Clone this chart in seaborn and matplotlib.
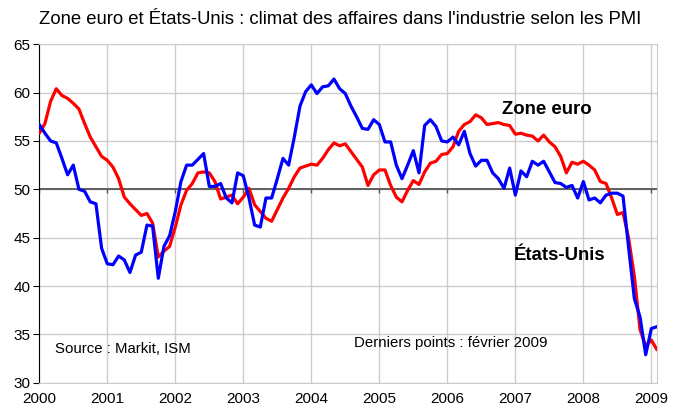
import numpy as np
import pandas as pd
import matplotlib
matplotlib.use("Agg")
import matplotlib.pyplot as plt
import seaborn as sns

# PMI manufacturier mensuel, janv. 2000 -> fevr. 2009
years = ["2000", "2001", "2002", "2003", "2004", "2005", "2006", "2007", "2008", "2009"]

pmi_zone_euro = [
    55.8, 56.8, 59.1, 60.4, 59.7, 59.4, 58.9, 58.3, 56.8, 55.4, 54.4, 53.4,
    53.0, 52.3, 51.1, 49.2, 48.5, 47.9, 47.3, 47.5, 46.5, 43.0, 43.6, 44.1,
    46.1, 48.4, 49.9, 50.6, 51.7, 51.8, 51.7, 50.8, 49.0, 49.2, 49.4, 48.5,
    49.2, 50.1, 48.4, 47.7, 47.0, 46.7, 47.9, 49.1, 50.1, 51.3, 52.2, 52.4,
    52.6, 52.5, 53.2, 54.1, 54.8, 54.5, 54.7, 53.9, 53.1, 52.3, 50.4, 51.5,
    52.0, 52.0, 50.4, 49.2, 48.7, 49.9, 50.9, 50.5, 51.8, 52.7, 52.9, 53.6,
    53.7, 54.4, 56.0, 56.7, 57.0, 57.7, 57.4, 56.7, 56.8, 56.9, 56.7, 56.6,
    55.7, 55.8, 55.6, 55.5, 55.0, 55.6, 54.9, 54.4, 53.4, 51.7, 52.8, 52.6,
    52.9, 52.5, 52.0, 50.8, 50.6, 49.1, 47.4, 47.6, 44.9, 41.0, 35.5, 33.8,
    34.4, 33.4,
]

ism_etats_unis = [
    56.7, 55.8, 55.0, 54.8, 53.2, 51.5, 52.5, 50.0, 49.8, 48.7, 48.5, 43.9,
    42.3, 42.2, 43.1, 42.7, 41.4, 43.2, 43.5, 46.3, 46.2, 40.8, 44.1, 45.2,
    47.7, 50.8, 52.5, 52.5, 53.1, 53.7, 50.3, 50.3, 50.6, 49.1, 48.6, 51.7,
    51.4, 49.1, 46.3, 46.1, 49.1, 49.1, 51.1, 53.2, 52.5, 55.4, 58.6, 60.1,
    60.8, 59.9, 60.6, 60.7, 61.4, 60.4, 59.9, 58.6, 57.5, 56.3, 56.2, 57.2,
    56.7, 54.9, 54.9, 52.5, 51.1, 52.5, 54.0, 51.7, 56.6, 57.2, 56.5, 55.0,
    54.9, 55.4, 54.6, 56.0, 53.7, 52.4, 53.0, 53.0, 51.7, 51.1, 50.1, 52.2,
    49.4, 51.9, 51.3, 52.9, 52.5, 52.9, 51.8, 50.7, 50.6, 50.2, 50.4, 49.1,
    50.8, 48.9, 49.1, 48.6, 49.4, 49.6, 49.6, 49.3, 43.9, 38.7, 36.8, 32.9,
    35.6, 35.8,
]

mois = np.arange(len(pmi_zone_euro))
df = pd.DataFrame({"mois": np.concatenate([mois, mois]),
                   "pmi": pmi_zone_euro + ism_etats_unis,
                   "zone": ["Zone euro"] * len(mois) + ["États-Unis"] * len(mois)})

sns.set_style("white")
plt.rcParams["font.family"] = ["Liberation Sans", "DejaVu Sans"]
plt.rcParams["text.color"] = "black"
plt.rcParams["xtick.labelcolor"] = "black"
plt.rcParams["ytick.labelcolor"] = "black"

fig = plt.figure(figsize=(6.77, 4.08), dpi=100)
ax = fig.add_axes([0.058, 0.062, 0.9125, 0.8295])

sns.lineplot(data=df, x="mois", y="pmi", hue="zone",
             palette={"Zone euro": "#ff0000", "États-Unis": "#0000ff"},
             linewidth=2.3, legend=False, ax=ax, zorder=3)

ax.set_xlim(0, len(mois) - 1)
ax.set_ylim(30, 65)
ax.set_xticks(np.arange(0, len(mois), 12))
ax.set_xticklabels(years)
ax.set_yticks(np.arange(30, 66, 5))
ax.set_xlabel("")
ax.set_ylabel("")
ax.grid(True, color="#cccccc", linewidth=1.0)
ax.set_axisbelow(True)

# axe horizontal a 50 avec petites graduations
ax.axhline(50, color="#555555", linewidth=1.3, zorder=2)
ax.vlines(np.arange(0, len(mois), 12), 49.6, 50, color="#555555", linewidth=1.0, zorder=2)

for s in ["top", "right", "bottom"]:
    ax.spines[s].set_color("#cccccc")
ax.spines["left"].set_color("black")
ax.tick_params(axis="y", length=4, color="black", labelsize=11, pad=2.5, left=True)
ax.tick_params(axis="x", length=0, labelsize=11, pad=7)

ax.text(81.6, 57.75, "Zone euro", fontsize=13.4, fontweight="bold", ha="left", va="baseline")
ax.text(83.8, 42.7, "États-Unis", fontsize=13.4, fontweight="bold", ha="left", va="baseline")
ax.text(2.8, 33.05, "Source : Markit, ISM", fontsize=10.8, ha="left", va="baseline")
ax.text(55.6, 33.65, "Derniers points : février 2009", fontsize=10.8, ha="left", va="baseline")

fig.text(0.502, 0.953, "Zone euro et États-Unis : climat des affaires dans l'industrie selon les PMI",
         fontsize=13.3, ha="center", va="center")

fig.savefig("out.png", dpi=100)
